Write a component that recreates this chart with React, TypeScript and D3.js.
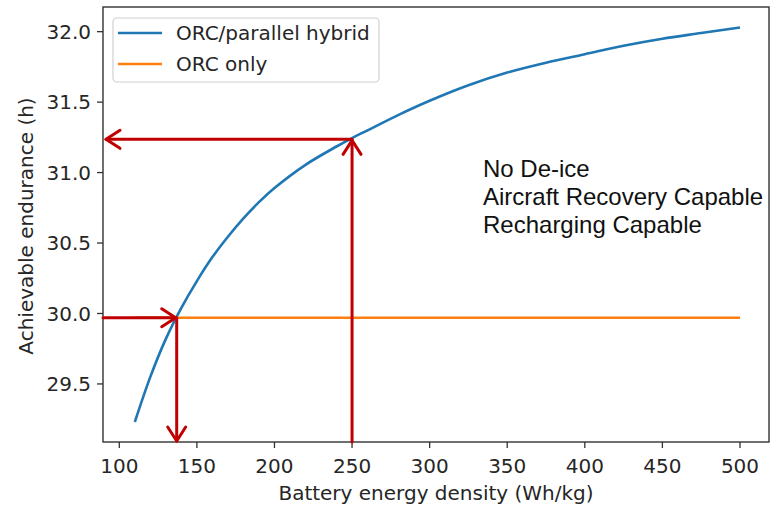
import React, { useEffect, useRef } from "react";
import * as d3 from "d3";

// battery energy density (Wh/kg) vs achievable endurance (h)
const densities = [110, 120, 130, 140, 150, 160, 170, 180, 190, 200, 220, 240, 250, 260, 280, 300, 325, 350, 375, 400, 425, 450, 475, 500];
const hybridEndurance = [29.23, 29.55, 29.82, 30.04, 30.23, 30.4, 30.545, 30.675, 30.79, 30.89, 31.055, 31.185, 31.245, 31.3, 31.41, 31.51, 31.62, 31.71, 31.78, 31.84, 31.9, 31.95, 31.99, 32.03];
const orcOnlyEndurance = [29.97, 29.97, 29.97, 29.97, 29.97, 29.97, 29.97, 29.97, 29.97, 29.97, 29.97, 29.97, 29.97, 29.97, 29.97, 29.97, 29.97, 29.97, 29.97, 29.97, 29.97, 29.97, 29.97, 29.97];

const xTicks = [100, 150, 200, 250, 300, 350, 400, 450, 500];
const yTicks = [29.5, 30.0, 30.5, 31.0, 31.5, 32.0];

const seriesNames = ["ORC/parallel hybrid", "ORC only"];
const seriesColors = ["#1f77b4", "#ff7f0e"];

// red read-off arrows: [density, endurance]
const readoutA = [250, 31.236];
const readoutB = [137, 29.97];

const noteLines = ["No De-ice", "Aircraft Recovery Capable", "Recharging Capable"];

const W = 771;
const H = 508;

export default function App() {
  const ref = useRef<SVGSVGElement>(null);

  useEffect(() => {
    const svg = d3.select(ref.current);
    svg.selectAll("*").remove();

    const left = 103, right = 769, top = 7, bottom = 442;
    const x = d3.scaleLinear().domain([89.5, 518.7]).range([left, right]);
    const y = d3.scaleLinear().domain([29.088, 32.175]).range([bottom, top]);

    const tickFont = "'DejaVu Sans', sans-serif";
    const ink = "#262626";
    const fs = 20;

    // series
    const line = d3.line<[number, number]>()
      .x(d => x(d[0]))
      .y(d => y(d[1]))
      .curve(d3.curveCatmullRom);

    const blue = densities.map((d, i) => [d, hybridEndurance[i]] as [number, number]);
    const orange = densities.map((d, i) => [d, orcOnlyEndurance[i]] as [number, number]);

    svg.append("path").attr("d", line(blue)!)
      .attr("fill", "none").attr("stroke", seriesColors[0]).attr("stroke-width", 2.6);
    svg.append("path").attr("d", line(orange)!)
      .attr("fill", "none").attr("stroke", seriesColors[1]).attr("stroke-width", 2.6);

    // frame
    svg.append("rect")
      .attr("x", left).attr("y", top)
      .attr("width", right - left).attr("height", bottom - top)
      .attr("fill", "none").attr("stroke", "#333").attr("stroke-width", 1.4);

    // x axis ticks
    const gx = svg.append("g");
    gx.selectAll("line").data(xTicks).enter().append("line")
      .attr("x1", d => x(d)).attr("x2", d => x(d))
      .attr("y1", bottom).attr("y2", bottom + 6)
      .attr("stroke", "#333").attr("stroke-width", 1.3);
    gx.selectAll("text").data(xTicks).enter().append("text")
      .attr("x", d => x(d)).attr("y", bottom + 31)
      .attr("text-anchor", "middle")
      .attr("font-family", tickFont).attr("font-size", fs).attr("fill", ink)
      .text(d => d);

    // y axis ticks
    const gy = svg.append("g");
    gy.selectAll("line").data(yTicks).enter().append("line")
      .attr("x1", left - 6).attr("x2", left)
      .attr("y1", d => y(d)).attr("y2", d => y(d))
      .attr("stroke", "#333").attr("stroke-width", 1.3);
    gy.selectAll("text").data(yTicks).enter().append("text")
      .attr("x", left - 12).attr("y", d => y(d))
      .attr("dy", "0.36em")
      .attr("text-anchor", "end")
      .attr("font-family", tickFont).attr("font-size", fs).attr("fill", ink)
      .text(d => d3.format(".1f")(d));

    // axis labels
    svg.append("text")
      .attr("x", 436).attr("y", 500)
      .attr("text-anchor", "middle")
      .attr("font-family", tickFont).attr("font-size", fs).attr("fill", ink)
      .text("Battery energy density (Wh/kg)");
    svg.append("text")
      .attr("transform", "translate(33,226) rotate(-90)")
      .attr("text-anchor", "middle")
      .attr("font-family", tickFont).attr("font-size", fs).attr("fill", ink)
      .text("Achievable endurance (h)");

    // legend
    const lg = svg.append("g");
    lg.append("rect")
      .attr("x", 113).attr("y", 18).attr("width", 266).attr("height", 64)
      .attr("rx", 4)
      .attr("fill", "white").attr("fill-opacity", 0.8)
      .attr("stroke", "#d0d0d0").attr("stroke-width", 1.2);
    seriesNames.forEach((name, i) => {
      const ly = 33 + i * 31;
      lg.append("line")
        .attr("x1", 118).attr("x2", 162).attr("y1", ly).attr("y2", ly)
        .attr("stroke", seriesColors[i]).attr("stroke-width", 2.6);
      lg.append("text")
        .attr("x", 176).attr("y", ly).attr("dy", "0.36em")
        .attr("font-family", tickFont).attr("font-size", fs).attr("fill", ink)
        .text(name);
    });

    // red arrows
    const red = "#c00000";
    const arrow = (x1: number, y1: number, x2: number, y2: number) => {
      const g = svg.append("g").attr("stroke", red).attr("stroke-width", 3)
        .attr("fill", "none").attr("stroke-linecap", "round").attr("stroke-linejoin", "round");
      g.append("line").attr("x1", x1).attr("y1", y1).attr("x2", x2).attr("y2", y2);
      const a = Math.atan2(y2 - y1, x2 - x1);
      const back = 14, side = 9;
      const p1 = [x2 - back * Math.cos(a) + side * Math.sin(a), y2 - back * Math.sin(a) - side * Math.cos(a)];
      const p2 = [x2 - back * Math.cos(a) - side * Math.sin(a), y2 - back * Math.sin(a) + side * Math.cos(a)];
      g.append("path").attr("d", `M${p1[0]},${p1[1]}L${x2},${y2}L${p2[0]},${p2[1]}`);
    };

    // 250 Wh/kg: up to curve, then left to axis
    arrow(x(readoutA[0]), bottom, x(readoutA[0]), y(readoutA[1]) + 1);
    arrow(x(readoutA[0]), y(readoutA[1]), left + 3, y(readoutA[1]));
    // crossover: from axis right to curve, then down to axis
    arrow(left, y(readoutB[1]), x(readoutB[0]) - 1, y(readoutB[1]));
    arrow(x(readoutB[0]), y(readoutB[1]), x(readoutB[0]), bottom - 1);

    // note
    const note = svg.append("text")
      .attr("font-family", "'Liberation Sans', Arial, sans-serif")
      .attr("font-size", 24).attr("fill", "#111");
    noteLines.forEach((t, i) => {
      note.append("tspan").attr("x", 483).attr("y", 177 + i * 28).text(t);
    });
  }, []);

  return (
    <svg ref={ref} width={W} height={H}
      style={{ position: "absolute", left: 0, top: 0, background: "white" }} />
  );
}
